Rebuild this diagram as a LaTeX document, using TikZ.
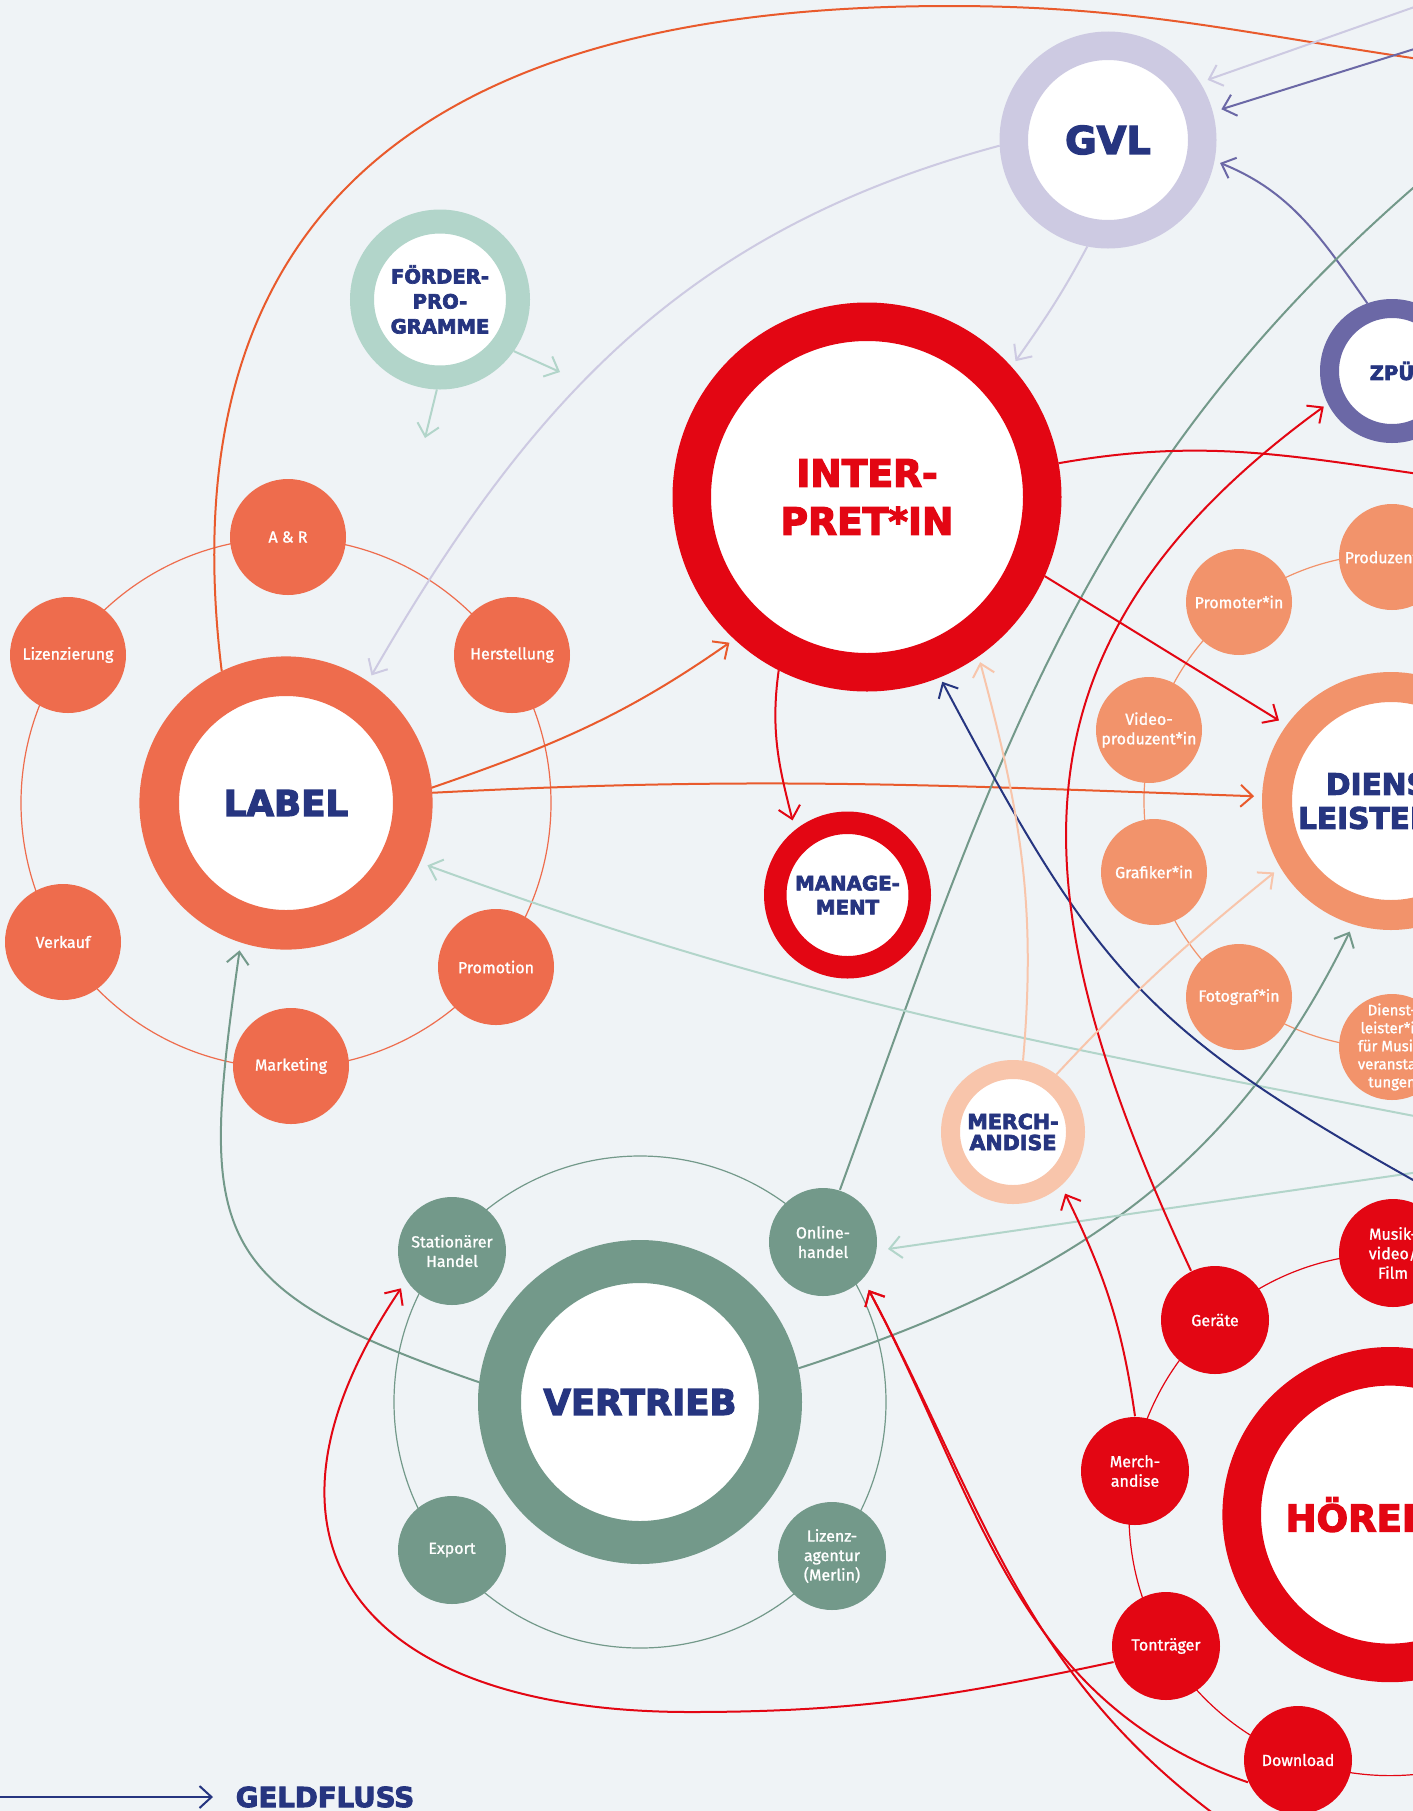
\documentclass[tikz,border=0pt]{standalone}
\usepackage{fontspec}
\setmainfont{Fira Sans}
\newfontfamily\headfont{DejaVu Sans}[BoldFeatures={FakeBold=3.5}]
\newfontfamily\satfont{Fira Sans}[FakeBold=1.2]
\usepackage{xcolor}
\usetikzlibrary{arrows.meta,positioning}
\definecolor{mbg}{HTML}{EFF3F6}
\definecolor{mnavy}{HTML}{263580}
\definecolor{mlabel}{HTML}{EE6C4D}
\definecolor{morange}{HTML}{E95A2C}
\definecolor{mred}{HTML}{E30613}
\definecolor{msalmon}{HTML}{F2936B}
\definecolor{mpeach}{HTML}{F8C5AB}
\definecolor{mlav}{HTML}{CDCAE2}
\definecolor{mpurple}{HTML}{6B68A6}
\definecolor{mgreen}{HTML}{73998A}
\definecolor{mmint}{HTML}{B2D5CA}
\newcommand{\hubfont}[2]{\headfont\bfseries\fontsize{#1}{#2}\selectfont}
\tikzstyle{l2}=[line width=0.5]
\tikzstyle{ringl}=[line width=0.3]
\tikzstyle{flow}=[l2, ->]
\tikzstyle{hub}=[circle, fill=white, inner sep=0pt, align=center, text=mnavy]
\tikzstyle{sat}=[circle, inner sep=0pt, align=center, text=white, font=\satfont\fontsize{4}{4.875}\selectfont]
\tikzstyle{lsat}=[sat, fill=mlabel, minimum size=29]
\tikzstyle{vsat}=[sat, fill=mgreen, minimum size=27]
\tikzstyle{dsat}=[sat, fill=msalmon, minimum size=26.5]
\tikzstyle{hsat}=[sat, fill=mred, minimum size=27]
\begin{document}
\begin{tikzpicture}[x=0.25pt, y=-0.25pt, >={Straight Barb[length=3pt, width=5.5pt]}]
    \useasboundingbox (0,0) rectangle (1413,1811);
    \fill[mbg] (0,0) rectangle (1413,1811);
    \clip (0,0) rectangle (1413,1811);

    % main circles
    \node (gvl) [hub, draw=mlav, line width=7.125, minimum size=47.125, font=\hubfont{9.6}{10}] at (1108,140) {GVL};
    \node (zpu) [hub, draw=mpurple, line width=4.75, minimum size=31.25, font=\hubfont{4.9}{5.5}] at (1392,371) {ZPÜ};
    \node (foerd) [hub, draw=mmint, line width=6, minimum size=39, font=\hubfont{4.9}{6.25}] at (440,299.5) {FÖRDER-\\PRO-\\GRAMME};
    \node (intp) [hub, draw=mred, text=mred, line width=9.625, minimum size=87.625, font=\hubfont{9.4}{12}] at (867,497) {INTER-\\PRET*IN};
    \node (mgmt) [hub, draw=mred, line width=5.625, minimum size=36.125, font=\hubfont{4.95}{6}] at (847.5,895) {MANAGE-\\MENT};
    \node (lbl) [hub, draw=mlabel, line width=9.9, minimum size=63.4, font=\hubfont{8.9}{10}] at (286,803) {LABEL};
    \node (vtr) [hub, draw=mgreen, line width=10.75, minimum size=70.25, font=\hubfont{8.85}{10}] at (640,1402) {VERTRIEB};
    \node (dienst) [hub, draw=msalmon, line width=7.5, minimum size=57, font=\hubfont{7.4}{8.5}] at (1391,801) {DIENST-\\LEISTER*IN};
    \node (merch) [hub, draw=mpeach, line width=4.75, minimum size=31.25, font=\hubfont{5.15}{5.25}] at (1013,1132) {MERCH-\\ANDISE};
    \node (hoer) [hub, draw=mred, text=mred, line width=9.65, minimum size=74.15, font=\hubfont{9.25}{10}] at (1390,1514.6) {HÖRER*IN};

    % rings
    \draw[ringl, mlabel] (lbl.center) circle (265);
    \draw[ringl, mgreen] (vtr.center) circle (246);
    \draw[ringl, msalmon] (dienst.center) circle (247);
    \draw[ringl, mred] (hoer.center) circle (261);

    % label
    \node (ar) [lsat] at (288,537) {A \& R};
    \node (herst) [lsat] at (512,655) {Herstellung};
    \node (lizenz) [lsat] at (68,655) {Lizenzierung};
    \node (verkauf) [lsat] at (63,942) {Verkauf};
    \node (marketing) [lsat] at (291,1066) {Marketing};
    \node (promo) [lsat] at (496,967) {Promotion};

    % vertrieb
    \node (stat) [vsat] at (452,1251) {Stationärer\\Handel};
    \node (online) [vsat] at (823,1242) {Online-\\handel};
    \node (export) [vsat] at (452,1550) {Export};
    \node (agentur) [vsat] at (832,1556) {Lizenz-\\agentur\\(Merlin)};

    % dienstleister
    \node (produz) [dsat] at (1392,557) {Produzent*in};
    \node (promoter) [dsat] at (1239,602) {Promoter*in};
    \node (video) [dsat] at (1149,730) {Video-\\produzent*in};
    \node (grafiker) [dsat] at (1154,872) {Grafiker*in};
    \node (foto) [dsat] at (1239,997) {Fotograf*in};
    \node (dlmusik) [dsat, inner sep=-2, font=\satfont\fontsize{3.75}{4.5}\selectfont] at (1392,1047) {Dienst-\\leister*in\\für Musik-\\veranstal-\\tungen};

    % hoerer
    \node (geraete) [hsat] at (1215,1320) {Geräte};
    \node (musikvid) [hsat] at (1393,1253) {Musik-\\video/\\Film};
    \node (hmerch) [hsat] at (1135,1471) {Merch-\\andise};
    \node (tontr) [hsat] at (1166,1646) {Tonträger};
    \node (download) [hsat] at (1298,1760) {Download};

    % free ends
    \coordinate (otop) at (950,6);
    \coordinate (oe1) at (1440,62);
    \coordinate (lve) at (1440,-2);
    \coordinate (pue) at (1440,41);
    \coordinate (ge1) at (1440,165);
    \coordinate (me1) at (1440,1121);
    \coordinate (me2) at (1440,1169);
    \coordinate (ne1) at (1440,1195);
    \coordinate (re1) at (1440,477);
    \coordinate (rb1) at (1236,1830);
    \coordinate (rlow) at (690,1712);
    \coordinate (fo1) at (560,372);
    \coordinate (fo2) at (425,438);

    % money flows
    \draw[l2, morange] (lbl.116) to[out=97, in=180, out looseness=1.45] (otop) to[out=0, in=172] (oe1);
    \draw[flow, morange, shorten >=1.5] (lbl.6) to[out=19, in=215] (intp.227);
    \draw[flow, morange, shorten >=2] (lbl.4) to[out=3, in=178] (dienst.178);
    \draw[flow, mlav, shorten >=1.75] (gvl.183) to[out=195, in=60] (lbl.56);
    \draw[flow, mlav, shorten >=1.75] (gvl.259) to[out=242, in=55] (intp.42);
    \draw[flow, mlav, shorten >=2] (lve) -- (gvl.32);
    \draw[flow, mpurple, shorten >=2.25] (pue) -- (gvl.15);
    \draw[flow, mpurple, shorten >=1.5] (zpu.110) to[out=125, in=-22] (gvl.-11);
    \draw[flow, mmint] (foerd.-35) -- (fo1);
    \draw[flow, mmint] (foerd.-92) -- (fo2);
    \draw[l2, mgreen] (online.72) to[out=70, in=220] (ge1);
    \draw[flow, mgreen, shorten >=2] (vtr.173) to[out=161, in=-98, looseness=1.5] (lbl.252);
    \draw[flow, mgreen, shorten >=2] (vtr.12) to[out=18, in=244] (dienst.253);
    \draw[flow, mmint, shorten >=2] (me1) to[out=169, in=-20] (lbl.-24);
    \draw[flow, mmint, shorten >=2.75] (me2) -- (online.-9);
    \draw[flow, mnavy, shorten >=1.25] (ne1) to[out=151, in=-62, looseness=1.2] (intp.-68);
    \draw[flow, mred, shorten >=2.5] (intp.243) to[out=262, in=104] (mgmt.129);
    \draw[flow, mred, shorten >=2.25] (intp.-24) -- (dienst.144);
    \draw[l2, mred] (intp.10) to[out=10, in=172] (re1);
    \draw[flow, mred, shorten >=1.25] (geraete.116) to[out=115, in=216, looseness=1.2] (zpu.207);
    \draw[flow, mred, shorten >=2.25] (hmerch.90) to[out=98, in=-64] (merch.-48);
    \draw[flow, mred, shorten >=2.25] (tontr.197) to[out=192, in=0] (rlow) to[out=180, in=236, looseness=1.6] (stat.213);
    \draw[flow, mred, shorten >=3] (download.204) to[out=161, in=-62] (online.-43);
    \draw[flow, mred, shorten >=3] (rb1) to[out=145, in=-62] (online.-43);
    \draw[flow, mpeach, shorten >=1.5] (merch.82) to[out=85, in=-75] (intp.-55);
    \draw[flow, mpeach, shorten >=2] (merch.53) to[out=47, in=219] (dienst.211);

    % legend
    \node (geld) [anchor=west, inner sep=0pt, text=mnavy, font=\hubfont{6.9}{7.5}] at (235,1797) {GELDFLUSS};
    \coordinate (gstart) at (-5,1797);
    \draw[flow, mnavy, shorten >=5.5] (gstart) -- (geld.west);
\end{tikzpicture}
\end{document}
